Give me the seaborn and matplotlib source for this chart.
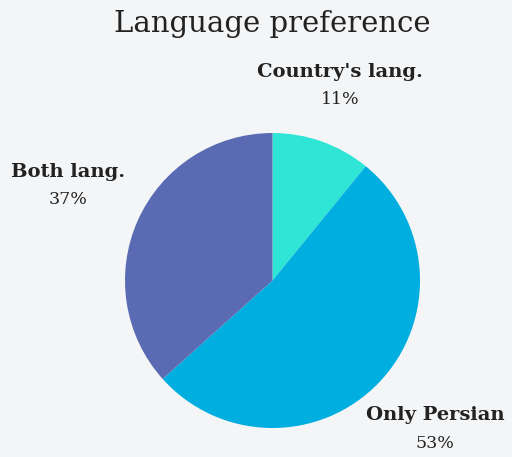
import matplotlib
matplotlib.use("Agg")
import matplotlib.pyplot as plt
import seaborn as sns

categories = ["Country's lang.", "Only Persian", "Both lang."]
shares = [11, 53, 37]
colors = sns.color_palette(["#2FE5D6", "#00AEE0", "#5A6BB3"])

sns.set_theme(style="white")
plt.rcParams["font.family"] = ["DejaVu Serif"]

bg = "#F4F5F7"
W, H = 512, 457
fig = plt.figure(figsize=(W / 100, H / 100), dpi=100, facecolor=bg)

cx, cy, r = 272.5, 280.5, 147.5
ax = fig.add_axes([(cx - r) / W, (H - cy - r) / H, 2 * r / W, 2 * r / H])
ax.set_facecolor(bg)
ax.pie(shares, colors=colors, startangle=90, counterclock=False, radius=1,
       wedgeprops=dict(linewidth=0))
ax.set_xlim(-1, 1)
ax.set_ylim(-1, 1)
ax.axis("off")

# label anchor positions in pie units (name line, value line)
label_pos = [(0.458, 1.414), (1.102, -0.912), (-1.386, 0.736)]
for name, val, (x, y) in zip(categories, shares, label_pos):
    ax.text(x, y, name, ha="center", va="center", fontsize=14,
            fontweight="bold", color="#222222", clip_on=False)
    ax.text(x, y - 0.19, f"{val}%", ha="center", va="center", fontsize=12.5,
            color="#222222", clip_on=False)

fig.text(0.532, 1 - 24 / H, "Language preference", ha="center", va="center",
         fontsize=21, color="#222222")

fig.savefig("out.png", dpi=100, facecolor=bg)
